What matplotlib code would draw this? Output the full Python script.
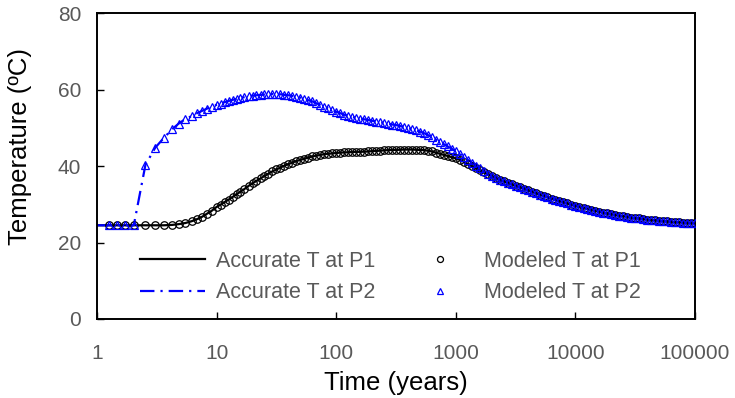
import matplotlib
matplotlib.use("Agg")
import matplotlib.pyplot as plt
from matplotlib.ticker import FixedLocator, FixedFormatter, NullLocator

plt.rcParams['font.family'] = ['Liberation Sans', 'DejaVu Sans']

# time (years) and temperatures (deg C)
time_yr = [1.0, 1.25, 1.47, 1.72, 2.03, 2.54, 3.07, 3.61, 4.24, 4.82, 5.49, 6.23, 6.85, 7.54, 8.3, 9.1,
           10, 10.8, 11.7, 12.6, 13.6, 14.7, 15.8, 17.1, 18.5, 20.0, 21.5, 23.3, 25.1, 27.1, 29.3,
           31.6, 34.1, 36.9, 39.8, 43.0, 46.4, 50.1, 54.1, 58.4, 63.1, 68.1, 73.6, 79.4, 85.8, 92.6,
           100, 108, 117, 126, 136, 147, 158, 171, 185, 200, 215, 233, 251, 271, 293,
           316, 341, 369, 398, 430, 464, 501, 541, 584, 631, 681, 736, 794, 858, 926,
           1000, 1080, 1170, 1260, 1360, 1470, 1580, 1710, 1850, 2000, 2150, 2330, 2510, 2710, 2930,
           3160, 3410, 3690, 3980, 4300, 4640, 5010, 5410, 5840, 6310, 6810, 7360, 7940, 8580, 9260,
           10000, 10800, 11700, 12600, 13600, 14700, 15800, 17100, 18500, 20000, 21500, 23300,
           25100, 27100, 29300, 31600, 34100, 36900, 39800, 43000, 46400, 50100, 54100, 58400,
           63100, 68100, 73600, 79400, 85800, 92600, 100000]

temp_p1 = [24.5, 24.5, 24.5, 24.5, 24.5, 24.5, 24.5, 24.5, 24.6, 24.8, 25.1, 25.6, 26.1, 26.7, 27.5, 28.3,
           29.3, 29.9, 30.6, 31.2, 31.9, 32.6, 33.3, 34.0, 34.8, 35.5, 36.1, 36.8, 37.4, 38.0, 38.6,
           39.1, 39.6, 40.1, 40.5, 40.9, 41.3, 41.6, 41.9, 42.2, 42.5, 42.7, 42.9, 43.1, 43.2, 43.3,
           43.4, 43.5, 43.55, 43.6, 43.65, 43.7, 43.7, 43.75, 43.8, 43.9, 43.95, 44.0, 44.1, 44.15, 44.2,
           44.2, 44.25, 44.3, 44.3, 44.3, 44.25, 44.2, 44.15, 44.0, 43.8, 43.5, 43.2, 42.9, 42.6, 42.3,
           42.0, 41.6, 41.1, 40.5, 39.95, 39.4, 38.9, 38.4, 37.8, 37.3, 36.8, 36.4, 36.0, 35.6, 35.2,
           34.8, 34.5, 34.1, 33.7, 33.3, 32.9, 32.5, 32.2, 31.8, 31.5, 31.2, 30.8, 30.5, 30.2, 29.9,
           29.6, 29.3, 29.0, 28.8, 28.5, 28.3, 28.1, 27.8, 27.6, 27.4, 27.2, 27.0,
           26.9, 26.7, 26.5, 26.4, 26.3, 26.1, 26.0, 25.9, 25.8, 25.7, 25.6, 25.5,
           25.4, 25.35, 25.3, 25.2, 25.2, 25.15, 25.1]

temp_p2 = [24.5, 24.5, 24.5, 24.5, 24.5, 40.3, 44.8, 47.3, 49.6, 51.1, 52.3, 53.1, 53.8, 54.4, 55.0, 55.5,
           56.0, 56.3, 56.7, 57.0, 57.3, 57.5, 57.8, 58.0, 58.2, 58.4, 58.5, 58.6, 58.7, 58.75, 58.8,
           58.8, 58.75, 58.6, 58.5, 58.3, 58.1, 57.9, 57.6, 57.2, 56.9, 56.4, 56.0, 55.5, 55.1, 54.6,
           54.2, 53.8, 53.4, 53.1, 52.8, 52.6, 52.4, 52.2, 52.0, 51.8, 51.6, 51.4, 51.2, 51.0, 50.85,
           50.7, 50.45, 50.2, 49.9, 49.65, 49.35, 49.0, 48.6, 48.1, 47.5, 46.9, 46.3, 45.7, 45.1, 44.5,
           43.8, 43.1, 42.4, 41.6, 40.9, 40.1, 39.4, 38.7, 37.9, 37.3, 36.8, 36.4, 36.0, 35.6, 35.2,
           34.8, 34.5, 34.1, 33.7, 33.3, 32.9, 32.5, 32.2, 31.8, 31.5, 31.2, 30.8, 30.5, 30.2, 29.9,
           29.6, 29.3, 29.0, 28.8, 28.5, 28.3, 28.1, 27.8, 27.6, 27.4, 27.2, 27.0,
           26.9, 26.7, 26.5, 26.4, 26.3, 26.1, 26.0, 25.9, 25.8, 25.7, 25.6, 25.5,
           25.4, 25.35, 25.3, 25.2, 25.2, 25.15, 25.1]

assert len(time_yr) == len(temp_p1) == len(temp_p2)

x_ticks = [1, 10, 100, 1000, 10000, 100000]
y_ticks = [0, 20, 40, 60, 80]

grey = '#595959'

fig = plt.figure(figsize=(7.35, 3.98), dpi=100)
ax = fig.add_axes([0.132, 0.1985, 0.8136, 0.7688])

l1, = ax.plot(time_yr, temp_p1, color='black', lw=1.6, label='Accurate T at P1', zorder=2)
l2, = ax.plot(time_yr, temp_p2, color='blue', lw=1.6, label='Accurate T at P2', zorder=2)
l2.set_dashes((6.5, 2.7, 1, 2.7))

# modelled values sit on the same sample times (first sample is the t=1 start of the lines)
m1, = ax.plot(time_yr[1:], temp_p1[1:], ls='none', marker='o', ms=5.4, mfc='none',
              mec='black', mew=0.9, label='Modeled T at P1', zorder=3)
m2, = ax.plot(time_yr[1:], temp_p2[1:], ls='none', marker='^', ms=5.4, mfc='none',
              mec='blue', mew=0.9, label='Modeled T at P2', zorder=4)

ax.set_xscale('log')
ax.set_xlim(1, 100000)
ax.set_ylim(0, 80)
ax.xaxis.set_major_locator(FixedLocator(x_ticks))
ax.xaxis.set_major_formatter(FixedFormatter([str(v) for v in x_ticks]))
ax.xaxis.set_minor_locator(NullLocator())
ax.set_yticks(y_ticks)

ax.tick_params(direction='in', length=5, width=1, labelsize=15, labelcolor=grey,
               top=False, right=False)
ax.tick_params(axis='x', pad=18)
ax.tick_params(axis='y', pad=11.5)
for s in ax.spines.values():
    s.set_linewidth(1.4)

ax.set_xlabel('Time (years)', fontsize=18.5, color='black', labelpad=6)
ax.set_ylabel('Temperature (ºC)', fontsize=18.5, color='black')
ax.yaxis.set_label_coords(-0.108, 0.565)

leg = ax.legend(handles=[l1, l2, m1, m2], ncol=2, frameon=False, fontsize=15.5,
                loc='lower center', bbox_to_anchor=(0.491, -0.012), handlelength=3.0,
                handletextpad=0.55, columnspacing=1.5, labelspacing=0.5, markerscale=0.8)
for txt in leg.get_texts():
    txt.set_color(grey)

fig.savefig('out.png', dpi=100)
